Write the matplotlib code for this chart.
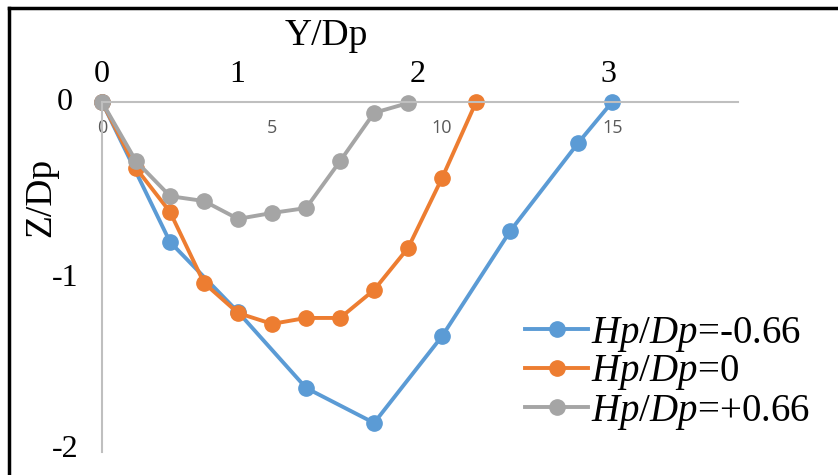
import matplotlib.pyplot as plt
from matplotlib.lines import Line2D

# positions along the section (mm) and depth (mm)
x_neg = [0, 2, 4, 6, 8, 10, 12, 14, 15]
z_neg = [0, -4.0, -6.0, -8.17, -9.17, -6.69, -3.69, -1.17, 0]

x_zero = [0, 1, 2, 3, 4, 5, 6, 7, 8, 9, 10, 11]
z_zero = [0, -1.89, -3.14, -5.17, -6.03, -6.34, -6.17, -6.17, -5.37, -4.17, -2.17, 0]

x_pos = [0, 1, 2, 3, 4, 5, 6, 7, 8, 9]
z_pos = [0, -1.69, -2.69, -2.83, -3.34, -3.17, -3.03, -1.69, -0.31, -0.03]

x_ticks = [0, 5, 10, 15]
dp_labels = ["0", "1", "2", "3"]
dp_label_pos = [0, 3.97, 9.27, 14.9]
z_labels = ["0", "-1", "-2"]
z_label_pos = [0, -5.03, -9.94]

series_labels = [r"$Hp/Dp$=-0.66", r"$Hp/Dp$=0", r"$Hp/Dp$=+0.66"]
colors = ["#5B9BD5", "#ED7D31", "#A5A5A5"]


def main():
    plt.rcParams["mathtext.fontset"] = "custom"
    plt.rcParams["mathtext.it"] = "Liberation Serif:italic"
    plt.rcParams["mathtext.rm"] = "Liberation Serif"

    fig = plt.figure(figsize=(8.38, 4.75), dpi=100)
    ax = fig.add_axes([102 / 838, 23 / 475, 636 / 838, 350 / 475])

    for xs, zs, c, lab in zip([x_neg, x_zero, x_pos], [z_neg, z_zero, z_pos],
                              colors, series_labels):
        ax.plot(xs, zs, color=c, lw=2.8, marker="o", ms=11, label=lab,
                clip_on=False)

    ax.set_xlim(0, 18.7)
    ax.set_ylim(-10, 0)

    for side in ["right", "bottom"]:
        ax.spines[side].set_visible(False)
    for side in ["left", "top"]:
        ax.spines[side].set_color("#BFBFBF")
        ax.spines[side].set_linewidth(1.5)

    ax.set_xticks(x_ticks)
    ax.xaxis.set_ticks_position("top")
    ax.tick_params(axis="x", length=0, pad=-25, labelsize=13,
                   labelcolor="#595959", labeltop=True, labelbottom=False)
    for t in ax.get_xticklabels():
        t.set_fontfamily("Open Sans")
    ax.set_yticks([])

    serif = "Liberation Serif"
    for p, s in zip(dp_label_pos, dp_labels):
        ax.text(p, 1 + 28 / 350, s, transform=ax.get_xaxis_transform(),
                ha="center", va="center", fontsize=23, family=serif)
    for p, s in zip(z_label_pos, z_labels):
        ax.text(-37 / 636 * 18.7, p, s, ha="center", va="center",
                fontsize=23, family=serif)

    fig.text(326 / 838, 1 - 36 / 475, "Y/Dp", ha="center", va="center",
             fontsize=27, family=serif)
    fig.text(41 / 838, 1 - 197 / 475, "Z/Dp", ha="center", va="center",
             fontsize=27, family=serif, rotation=90)

    ax.legend(loc="center left", frameon=False,
              bbox_to_anchor=(506 / 838, 1 - 373 / 475),
              bbox_transform=fig.transFigure,
              prop={"family": serif, "size": 28},
              handlelength=1.6, handletextpad=0.08,
              labelspacing=0.0, borderpad=0)

    # outer black frame
    fig.add_artist(Line2D([9 / 838, 1], [1 - 8 / 475, 1 - 8 / 475],
                          color="black", lw=2.5, transform=fig.transFigure))
    fig.add_artist(Line2D([9 / 838, 9 / 838], [0, 1 - 8 / 475],
                          color="black", lw=2.5, transform=fig.transFigure))

    fig.savefig("out.png", dpi=100)


if __name__ == "__main__":
    main()
